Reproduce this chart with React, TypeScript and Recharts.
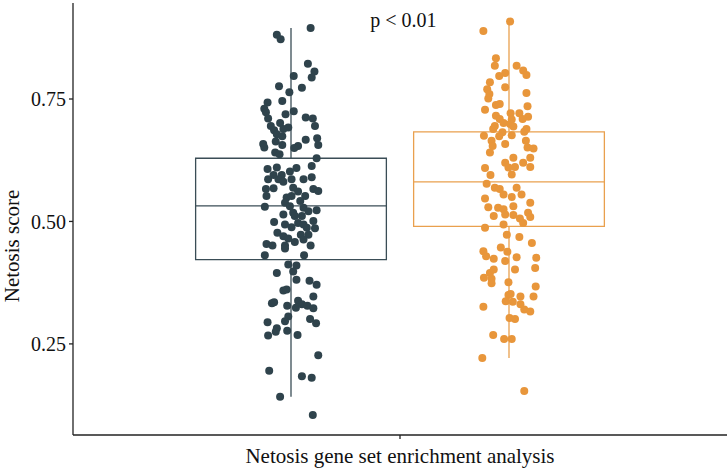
import React from "react";
import {
  ComposedChart,
  Scatter,
  XAxis,
  YAxis,
  ReferenceArea,
  ReferenceLine,
  ReferenceDot,
} from "recharts";

// one x category, two dodged groups
const category = "Netosis gene set enrichment analysis";
const groupColors = ["#2F434C", "#E8963B"];
const boxColors = ["#3A4D56", "#E9A04E"];
const yTicks = [0.25, 0.5, 0.75];
const pLabel = "p < 0.01";

// box stats: [lower whisker, q1, median, q3, upper whisker]
const darkBox = [0.142, 0.422, 0.532, 0.629, 0.895];
const orangeBox = [0.221, 0.49, 0.581, 0.683, 0.908];

// jittered points: [jitter, score]
const darkPoints: [number, number][] = [
  [0.036, 0.895], [-0.026, 0.881], [-0.019, 0.872], [0.031, 0.822], [0.043, 0.806],
  [0.038, 0.794], [0.005, 0.797], [-0.022, 0.776], [0.02, 0.773], [-0.003, 0.764],
  [-0.043, 0.743], [-0.016, 0.746], [-0.049, 0.73], [-0.046, 0.723], [-0.01, 0.719],
  [0.005, 0.725], [-0.042, 0.71], [0.027, 0.712], [0.04, 0.71], [-0.02, 0.701],
  [-0.037, 0.695], [0.044, 0.695], [-0.031, 0.686], [-0.014, 0.689], [-0.005, 0.692],
  [-0.026, 0.678], [-0.016, 0.674], [0.027, 0.667], [0.048, 0.67], [-0.051, 0.658],
  [-0.049, 0.651], [-0.028, 0.663], [-0.016, 0.656], [0.013, 0.654], [0.006, 0.65],
  [0.05, 0.656], [-0.029, 0.641], [-0.021, 0.637],
  [0.047, 0.629], [-0.043, 0.607], [-0.026, 0.61], [-0.032, 0.595], [-0.017, 0.595],
  [-0.002, 0.602], [0.01, 0.609], [0.038, 0.613], [-0.042, 0.586], [-0.023, 0.586],
  [-0.014, 0.581], [0.001, 0.586], [0.023, 0.586], [0.038, 0.59], [0.004, 0.569],
  [-0.046, 0.566], [-0.032, 0.568], [0.041, 0.566], [0.05, 0.562], [-0.045, 0.552],
  [0.013, 0.561], [-0.008, 0.549], [0.001, 0.552], [0.026, 0.552], [-0.011, 0.538],
  [0.017, 0.542], [-0.048, 0.53], [-0.002, 0.531], [0.023, 0.528], [0.047, 0.523],
  [-0.014, 0.514], [0.004, 0.518], [0.007, 0.511], [0.02, 0.511], [0.032, 0.521],
  [-0.031, 0.499], [-0.011, 0.494], [0.013, 0.497], [0.023, 0.494], [0.041, 0.501],
  [0.001, 0.488], [0.029, 0.487], [0.044, 0.486], [-0.025, 0.477], [-0.014, 0.47],
  [0.018, 0.473], [0.032, 0.473], [-0.005, 0.465], [-0.045, 0.454], [-0.034, 0.451],
  [-0.011, 0.451], [0.007, 0.458], [0.023, 0.463], [0.036, 0.451], [-0.011, 0.445],
  [-0.048, 0.431], [0.024, 0.431], [-0.005, 0.412], [0.01, 0.41], [-0.026, 0.395],
  [0.004, 0.398], [0.01, 0.381], [0.034, 0.379], [0.047, 0.371],
  [-0.014, 0.359], [-0.008, 0.361], [-0.035, 0.333], [-0.031, 0.335], [-0.007, 0.328],
  [0.013, 0.338], [0.009, 0.324], [0.02, 0.331], [0.03, 0.328], [0.041, 0.323],
  [0.041, 0.347], [-0.005, 0.306], [-0.011, 0.296], [-0.043, 0.294], [0.035, 0.301],
  [0.046, 0.292], [-0.026, 0.282], [-0.028, 0.275], [-0.007, 0.277], [-0.042, 0.267],
  [0.012, 0.268], [0.05, 0.227], [-0.04, 0.195], [0.02, 0.184], [0.038, 0.181],
  [-0.02, 0.142], [0.04, 0.105],
];

const orangePoints: [number, number][] = [
  [0.002, 0.908], [-0.047, 0.889], [-0.024, 0.833], [-0.026, 0.818], [0.014, 0.818],
  [0.026, 0.808], [0.032, 0.799], [-0.007, 0.803], [-0.018, 0.797], [-0.035, 0.784],
  [-0.04, 0.77], [-0.007, 0.774], [-0.036, 0.76], [0.032, 0.762], [-0.038, 0.751],
  [-0.044, 0.728], [-0.024, 0.738], [-0.017, 0.74], [0.034, 0.735], [-0.024, 0.716],
  [0.003, 0.721], [0.019, 0.721], [0.035, 0.714], [-0.017, 0.709], [0.005, 0.708],
  [0.025, 0.709], [-0.01, 0.701], [0.002, 0.699], [-0.026, 0.695], [0.008, 0.694],
  [-0.029, 0.689], [0.032, 0.689], [0.028, 0.683], [-0.012, 0.682], [0.005, 0.676],
  [-0.046, 0.675], [-0.018, 0.674], [-0.032, 0.665], [0.031, 0.665], [-0.007, 0.658],
  [-0.03, 0.654], [0.034, 0.651], [0.045, 0.649],
  [-0.035, 0.641], [0.008, 0.63], [0.039, 0.63], [-0.044, 0.609], [-0.007, 0.62],
  [-0.001, 0.61], [0.011, 0.611], [0.026, 0.62], [0.039, 0.611], [-0.034, 0.595],
  [0.005, 0.596], [-0.041, 0.577], [-0.026, 0.569], [-0.017, 0.566], [-0.01, 0.555],
  [0.014, 0.569], [0.023, 0.555], [0.005, 0.55], [-0.044, 0.547], [0.039, 0.538],
  [-0.038, 0.529], [-0.02, 0.528], [-0.01, 0.525], [0.008, 0.531], [-0.028, 0.511],
  [-0.007, 0.514], [0.008, 0.513], [0.02, 0.506], [0.035, 0.518], [0.039, 0.509],
  [0.026, 0.497], [-0.01, 0.494], [-0.044, 0.487], [-0.004, 0.473], [0.019, 0.468],
  [0.042, 0.456], [-0.047, 0.439], [-0.015, 0.447], [-0.003, 0.438], [-0.042, 0.429],
  [-0.028, 0.424], [0.014, 0.427], [0.05, 0.426], [-0.007, 0.419], [0.011, 0.402],
  [0.048, 0.405], [-0.035, 0.395], [-0.028, 0.402],
  [-0.046, 0.385], [-0.032, 0.383], [-0.032, 0.374], [-0.001, 0.376], [0.049, 0.367],
  [-0.001, 0.35], [0.003, 0.352], [0.021, 0.347], [0.045, 0.347], [-0.006, 0.337],
  [0.007, 0.336], [0.021, 0.331], [-0.047, 0.326], [0.028, 0.32], [0.039, 0.316],
  [0.001, 0.303], [0.011, 0.301], [-0.029, 0.268], [-0.009, 0.26], [0.005, 0.26],
  [-0.049, 0.221], [0.028, 0.154],
];

const dodge = 0.4;
const boxWidth = 0.35;
const center = (i: number) => 1 + (i - 0.5) * dodge;

const toData = (pts: [number, number][], i: number) =>
  pts.map(([j, s]) => ({ x: center(i) + j, y: s }));

const serif = "'Liberation Serif', 'DejaVu Serif', serif";

const Dot = (color: string) => (p: any) =>
  <circle cx={p.cx} cy={p.cy} r={4} fill={color} />;

function BoxPlot(stats: number[], i: number) {
  const cx = center(i);
  const x1 = cx - boxWidth / 2;
  const x2 = cx + boxWidth / 2;
  const [lo, q1, med, q3, hi] = stats;
  const c = boxColors[i];
  return [
    <ReferenceLine key={`wl${i}`} segment={[{ x: cx, y: lo }, { x: cx, y: q1 }]} stroke={c} strokeWidth={1.3} ifOverflow="visible" />,
    <ReferenceLine key={`wh${i}`} segment={[{ x: cx, y: q3 }, { x: cx, y: hi }]} stroke={c} strokeWidth={1.3} ifOverflow="visible" />,
    <ReferenceArea key={`b${i}`} x1={x1} x2={x2} y1={q1} y2={q3} fill="none" fillOpacity={0} stroke={c} strokeWidth={1.3} strokeOpacity={1} ifOverflow="visible" />,
    <ReferenceLine key={`m${i}`} segment={[{ x: x1, y: med }, { x: x2, y: med }]} stroke={c} strokeWidth={1.3} ifOverflow="visible" />,
  ];
}

export default function App() {
  return (
    <div style={{ position: "absolute", left: 0, top: 0, background: "#fff" }}>
      <ComposedChart width={727} height={470} margin={{ top: 3, right: 0, left: 0, bottom: 0 }}>
        <XAxis
          type="number"
          dataKey="x"
          domain={[0.4, 1.6]}
          ticks={[1]}
          allowDataOverflow
          height={35}
          tickSize={4}
          tickMargin={9}
          tickFormatter={() => category}
          stroke="#222"
          strokeWidth={1.3}
          tick={{ fill: "#111", fontSize: 21, fontFamily: serif }}
        />
        <YAxis
          type="number"
          dataKey="y"
          domain={[0.064, 0.946]}
          ticks={yTicks}
          allowDataOverflow
          width={73}
          tickSize={4}
          tickMargin={3}
          tickFormatter={(v: number) => v.toFixed(2)}
          stroke="#222"
          strokeWidth={1.3}
          tick={{ fill: "#111", fontSize: 20, fontFamily: serif }}
          label={{
            content: () => (
              <text
                transform="translate(19, 246) rotate(-90)"
                textAnchor="middle"
                fontSize={21}
                fontFamily={serif}
                fill="#111"
              >
                Netosis score
              </text>
            ),
          }}
        />
        {BoxPlot(darkBox, 0)}
        {BoxPlot(orangeBox, 1)}
        <Scatter data={toData(darkPoints, 0)} fill={groupColors[0]} shape={Dot(groupColors[0])} isAnimationActive={false} />
        <Scatter data={toData(orangePoints, 1)} fill={groupColors[1]} shape={Dot(groupColors[1])} isAnimationActive={false} />
        <ReferenceDot
          x={1.006}
          y={0.898}
          r={0}
          fill="none"
          stroke="none"
          ifOverflow="visible"
          label={{
            content: (props: any) => {
              const vb = props.viewBox || {};
              return (
                <text x={vb.x + (vb.width || 0) / 2} y={vb.y + (vb.height || 0) / 2} textAnchor="middle" fontSize={20} fontFamily={serif} fill="#111">
                  {pLabel}
                </text>
              );
            },
          }}
        />
      </ComposedChart>
    </div>
  );
}
